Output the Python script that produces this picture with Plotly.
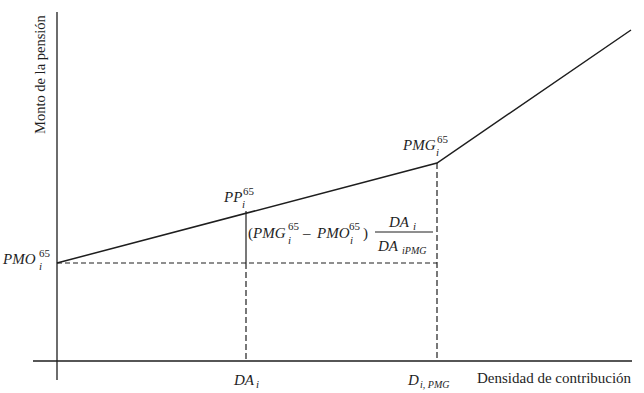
import plotly.graph_objects as go

# ---- data (chart units: density of contribution vs pension amount) ----
density_knots = [0, 380, 574]        # 0, D_{i,PMG}, end of line
pension_knots = [98, 198, 331]       # PMO, PMG, end of line
DA_i = 189
D_PMG = 380
PMO = 98
PP = 150
PMG = 198
x_axis_extent = [-24, 575]
y_axis_extent = [-19, 349]

INK = "#1e1e1e"
FONT = "Liberation Serif"

# pixel helper: figure is mapped 1 unit = 1 px, origin at (57, 361)
OX, OY = 57, 361
def P(px, py):
    return px - OX, OY - py

fig = go.Figure()

def seg(xs, ys, dash=None, width=1.3):
    fig.add_trace(go.Scatter(x=xs, y=ys, mode="lines",
                             line=dict(color=INK, width=width, dash=dash),
                             hoverinfo="skip", showlegend=False))

# axes
seg(x_axis_extent, [0, 0], width=1.3)
seg([0, 0], y_axis_extent, width=1.3)
# pension line
seg(density_knots, pension_knots, width=1.5)
# dashed guides
seg([0, D_PMG], [PMO, PMO], dash="5px,3px", width=1.2)
seg([DA_i, DA_i], [PMO, 0], dash="6px,3px", width=1.2)
seg([D_PMG, D_PMG], [PMG, 0], dash="6px,3px", width=1.2)
# solid segment between PMO level and PP
seg([DA_i, DA_i], [PMO, PP], width=1.2)

# fraction bar
fx0, fy = P(375, 232)
fx1, _ = P(433, 232)
seg([fx0, fx1], [fy, fy], width=1.0)

labels = [
    # text, left px, center py, size
    ("<i>PMO</i>", 1, 259, 15),
    ("65", 38, 253, 11),
    ("<i>i</i>", 38, 266, 11),
    ("<i>PP</i>", 222, 197, 15),
    ("65", 242, 191, 11),
    ("<i>i</i>", 241, 204, 11),
    ("<i>PMG</i>", 401, 145, 15),
    ("65", 436, 139, 11),
    ("<i>i</i>", 435, 152, 11),
    ("(<i>PMG</i>", 247, 233, 15),
    ("65", 287, 226, 11),
    ("<i>i</i>", 287, 240, 11),
    ("–", 301, 233, 15),
    ("<i>PMO</i>", 315, 233, 15),
    ("65", 348, 226, 11),
    ("<i>i</i>", 349, 240, 11),
    (")", 362, 233, 15),
    ("<i>DA</i>", 387, 222, 15),
    ("<i>i</i>", 412, 226, 11),
    ("<i>DA</i>", 376, 246, 15),
    ("<i>iPMG</i>", 401, 250, 10),
    ("<i>DA</i>", 232, 380, 15),
    ("<i>i</i>", 255, 384, 11),
    ("<i>D</i>", 406, 380, 15),
    ("<i>i, PMG</i>", 419, 384, 10),
    ("Densidad de contribución", 476, 378, 15),
]

for text, px, py, size in labels:
    x, y = P(px, py)
    fig.add_annotation(x=x, y=y, text=text, showarrow=False,
                       xanchor="left", yanchor="middle",
                       font=dict(family=FONT, size=size, color=INK),
                       borderpad=0)

tx, ty = P(40, 74)
fig.add_annotation(x=tx, y=ty, text="Monto de la pensión", textangle=-90,
                   showarrow=False, xanchor="center", yanchor="middle",
                   font=dict(family=FONT, size=14.5, color=INK))

fig.update_layout(
    width=644, height=393,
    margin=dict(l=0, r=0, t=0, b=0),
    paper_bgcolor="white", plot_bgcolor="white",
    xaxis=dict(range=[-OX, 644 - OX], visible=False, fixedrange=True),
    yaxis=dict(range=[OY - 393, OY], visible=False, fixedrange=True),
)

fig.write_html("out.html", config={"displayModeBar": False},
               post_script="document.body.style.margin='0px';")
